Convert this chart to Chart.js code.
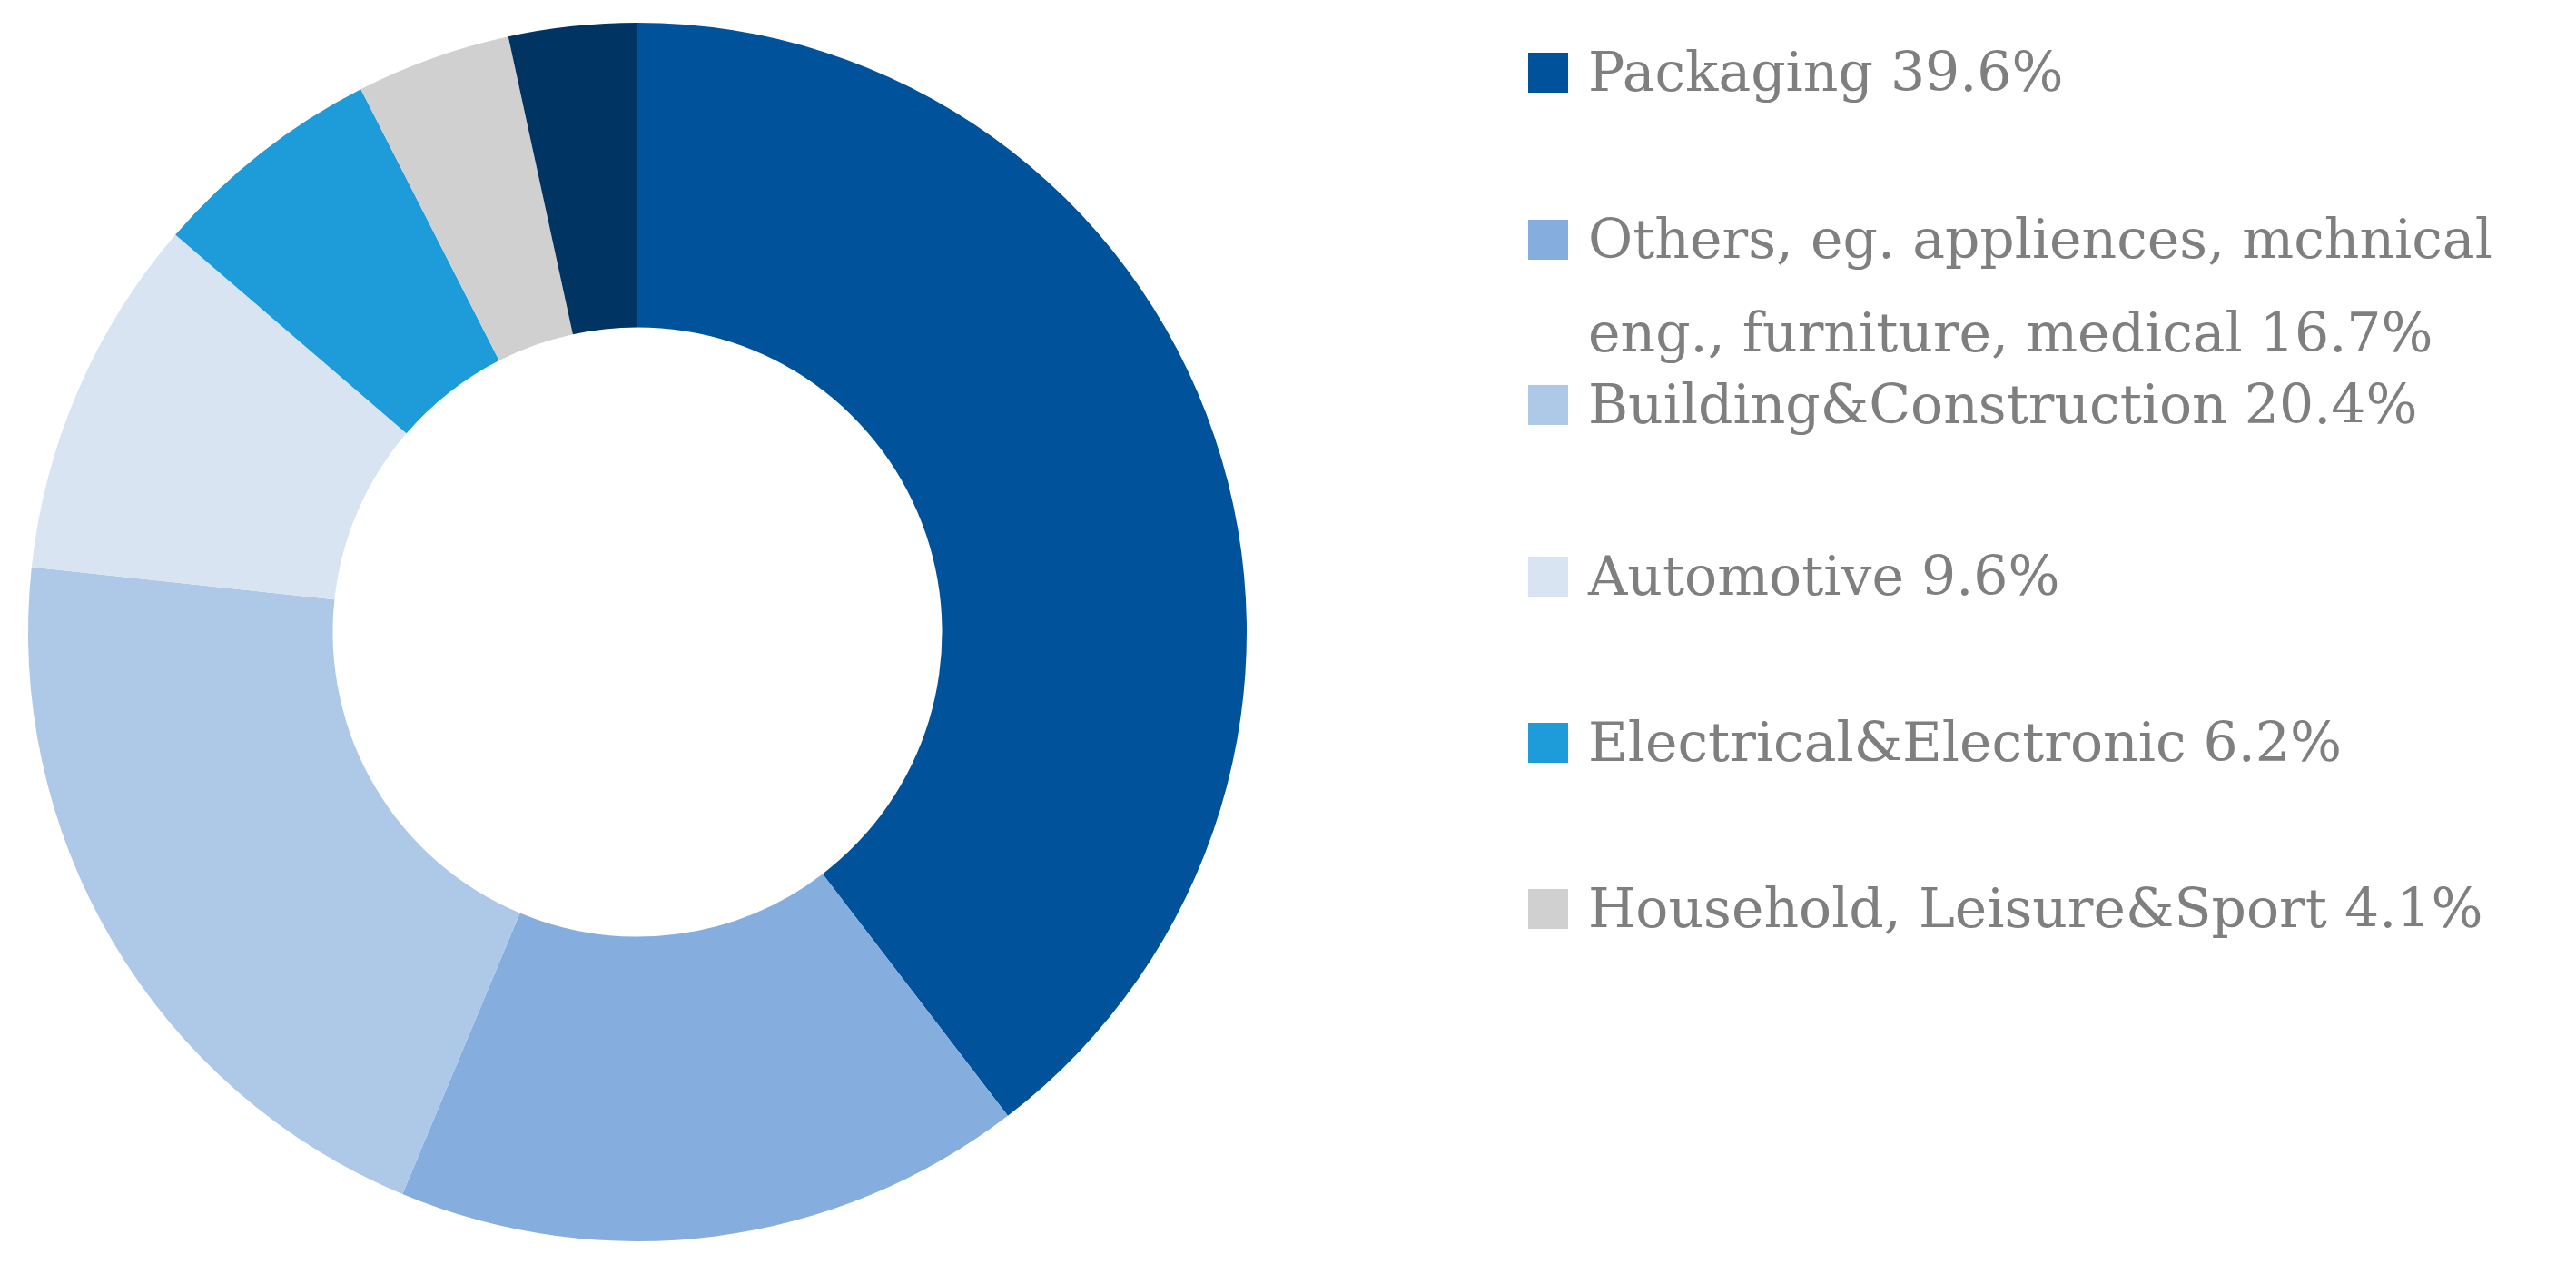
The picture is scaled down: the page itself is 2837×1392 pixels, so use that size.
<!DOCTYPE html>
<html><head><meta charset="utf-8">
<script src="https://cdn.jsdelivr.net/npm/chart.js@4"></script>
<style>
html,body{margin:0;padding:0;background:#fff;width:2837px;height:1392px;overflow:hidden}
#wrap{position:absolute;left:0;top:0;width:1404px;height:1392px}
.row{position:absolute;left:1683px;font-family:"DejaVu Serif",serif;font-size:60px;color:#7f7f7f;line-height:103px;white-space:nowrap}
.sw{position:absolute;left:0;width:44px;height:44px;top:30px}
.tx{position:absolute;left:66px;top:0}
</style></head><body>
<div id="wrap"><canvas id="c"></canvas></div>
<div id="legend"></div>
<script>
const labels = ["Packaging 39.6%", "Others, eg. appliences, mchnical|eng., furniture, medical 16.7%", "Building&Construction 20.4%", "Automotive 9.6%", "Electrical&Electronic 6.2%", "Household, Leisure&Sport 4.1%", ""];
const values = [39.6, 16.7, 20.4, 9.6, 6.2, 4.1, 3.4];
const colors = ["#00539b", "#85aedf", "#aec8e8", "#d9e4f3", "#1e9cd9", "#d1d0d0", "#003462"];
const legendTops = [28, 212, 394, 583, 766, 949];

new Chart(document.getElementById('c'), {
  type: 'doughnut',
  data: { labels: labels, datasets: [{ data: values, backgroundColor: colors, borderWidth: 0 }] },
  options: {
    responsive: true, maintainAspectRatio: false, animation: false,
    cutout: '50%',
    layout: { padding: 25 },
    plugins: { legend: { display: false }, tooltip: { enabled: false } }
  }
});
const lg = document.getElementById('legend');
labels.forEach((l, i) => {
  if (!l) return;
  const r = document.createElement('div');
  r.className = 'row';
  r.style.top = legendTops[i] + 'px';
  const s = document.createElement('div'); s.className = 'sw'; s.style.background = colors[i];
  const t = document.createElement('div'); t.className = 'tx';
  l.split('|').forEach((p, k) => { if (k) t.appendChild(document.createElement('br')); t.appendChild(document.createTextNode(p)); });
  r.appendChild(s); r.appendChild(t); lg.appendChild(r);
});
</script>
</body></html>
